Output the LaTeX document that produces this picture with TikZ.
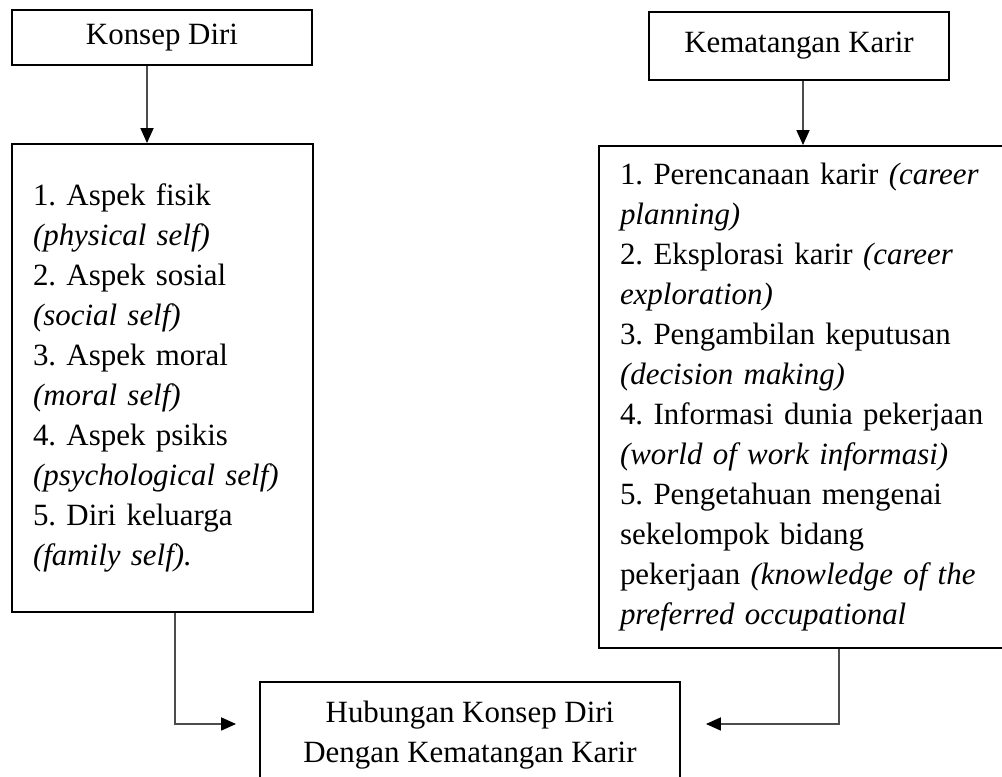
\documentclass[tikz,border=0pt]{standalone}
\usepackage{fontspec}
\setmainfont{Liberation Serif}
\usetikzlibrary{arrows.meta}
\frenchspacing
\newcommand{\boxfont}{\fontsize{22}{28.45}\selectfont\hyphenpenalty=10000\relax}

\begin{document}
\begin{tikzpicture}[
    box/.style={draw=black, line width=1.4pt, inner sep=0pt, align=center, font=\boxfont},
    listbox/.style={box, align=left, inner xsep=0.525cm},
    link/.style={draw=black!70, line width=0.8pt, -{Triangle[length=0.375cm, width=0.33cm, color=black]}}
]
    \useasboundingbox (0,0) rectangle (25.05,19.425);
    \clip (0,0) rectangle (25.05,19.425);

    % upper boxes
    \node[box, minimum width=7.5cm, minimum height=1.375cm] (konsep) at (4.05,18.4875) {Konsep Diri};
    \node[box, minimum width=7.5cm, minimum height=1.7cm] (kematangan) at (19.975,18.275) {Kematangan Karir};

    % aspect lists
    \node[listbox, text width=6.475cm, minimum height=11.7cm] (aspek) at (4.0625,9.975) {%
        1. Aspek fisik\\ \textit{(physical self)}\\
        2. Aspek sosial\\ \textit{(social self)}\\
        3. Aspek moral\\ \textit{(moral self)}\\
        4. Aspek psikis\\ \textit{(psychological self)}\\
        5. Diri keluarga\\ \textit{(family self).}};
    \node[listbox, text width=9.5cm, minimum height=12.55cm] (karir) at (20.25,9.5) {%
        1. Perencanaan karir \textit{(career}\\ \textit{planning)}\\
        2. Eksplorasi karir \textit{(career}\\ \textit{exploration)}\\
        3. Pengambilan keputusan\\ \textit{(decision making)}\\
        4. Informasi dunia pekerjaan\\ \textit{(world of work informasi)}\\
        5. Pengetahuan mengenai\\ sekelompok bidang\\
        pekerjaan \textit{(knowledge of the}\\ \textit{preferred occupational}};

    % result box
    \node[box, minimum width=10.5cm, minimum height=2.65cm] (hubungan) at (11.75,1.05) {Hubungan Konsep Diri\\ Dengan Kematangan Karir};

    % connectors
    \draw[link] ([xshift=-0.375cm]konsep.south) -- ([xshift=-0.375cm]konsep.south |- aspek.north);
    \draw[link] ([xshift=0.1cm]kematangan.south) -- ([xshift=0.1cm]kematangan.south |- karir.north);
    \draw[link] ([xshift=0.3125cm]aspek.south) |- ([xshift=-0.575cm,yshift=0.275cm]hubungan.west);
    \draw[link] ([xshift=0.725cm]karir.south) |- ([xshift=0.625cm,yshift=0.275cm]hubungan.east);
\end{tikzpicture}
\end{document}
